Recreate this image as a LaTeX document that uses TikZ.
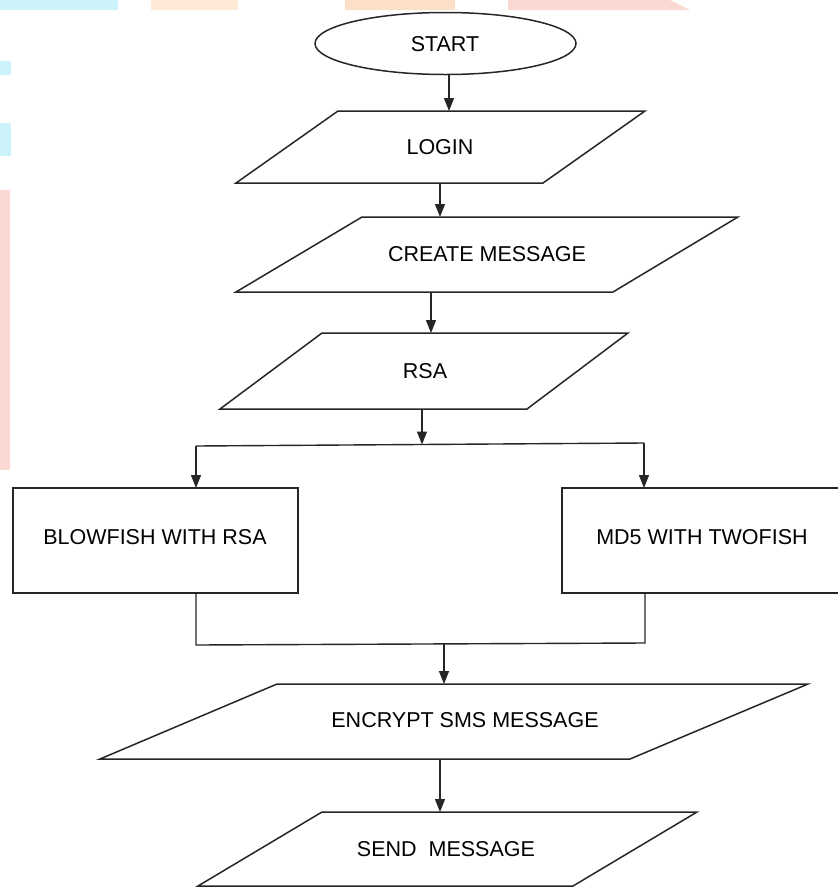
\documentclass[tikz,border=0pt]{standalone}
\usepackage{fontspec}
\setmainfont{Liberation Sans}
\usetikzlibrary{arrows.meta}
\definecolor{lncol}{HTML}{262626}
\definecolor{wmcyan}{HTML}{CDF3FA}
\definecolor{wmorange}{HTML}{FDE9D6}
\definecolor{wmorange2}{HTML}{FCE0C6}
\definecolor{wmpink}{HTML}{FBD8D1}
\begin{document}
\begin{tikzpicture}[x=1pt,y=-1pt,
  shp/.style={draw=lncol,line width=1.5pt,line join=miter},
  lbl/.style={font=\fontsize{21.5}{26}\selectfont,text=black,inner sep=0pt},
  arr/.style={draw=lncol,line width=1.2pt,-{Triangle[length=13pt,width=10pt]}},
  conn/.style={draw=lncol,line width=1.4pt}]
\useasboundingbox (0,0) rectangle (838,887);
% faint watermark traces
\fill[wmcyan] (0,0) rectangle (118,10);
\fill[wmorange] (151,0) rectangle (238,10);
\fill[wmorange2] (345,0) rectangle (455,10);
\fill[wmpink] (508,0) -- (670,0) -- (690,10) -- (508,10) -- cycle;
\fill[wmcyan] (0,61) rectangle (11,75);
\fill[wmcyan] (0,123) rectangle (11,156);
\fill[wmpink] (0,190) rectangle (10,470);
% shapes
\draw[shp] (445.5,43.5) ellipse [x radius=130.5, y radius=31];
\draw[shp] (338,111) -- (645,111) -- (543,183) -- (236,183) -- cycle;
\draw[shp] (362,217) -- (738,217) -- (613,292) -- (236,292) -- cycle;
\draw[shp] (322,333) -- (628,333) -- (527,409) -- (220,409) -- cycle;
\draw[shp] (13,488) rectangle (298,593);
\draw[shp] (562,488) rectangle (850,593);
\draw[shp] (277,684) -- (808,684) -- (630,759) -- (100,759) -- cycle;
\draw[shp] (322,812) -- (697,812) -- (573,886) -- (198,886) -- cycle;
% labels
\node[lbl] (tstart) at (445,44) {START};
\node[lbl] (tlogin) at (440,147) {LOGIN};
\node[lbl] (tcreate) at (487,254) {CREATE MESSAGE};
\node[lbl] (trsa) at (425,371) {RSA};
\node[lbl] (tblow) at (155,537) {BLOWFISH WITH RSA};
\node[lbl] (tmd5) at (702,537) {MD5 WITH TWOFISH};
\node[lbl] (tenc) at (465,720) {ENCRYPT SMS MESSAGE};
\node[lbl] (tsend) at (446,849) {SEND\ \ MESSAGE};
% connector points
\coordinate (s1) at (449,74.5);
\coordinate (l1) at (449,111);
\coordinate (l2) at (440,183);
\coordinate (c1) at (440,217);
\coordinate (c2) at (431,292);
\coordinate (r1) at (431,333);
\coordinate (r2) at (422,409);
\coordinate (j) at (422,444.5);
\coordinate (jl) at (196,446);
\coordinate (jr) at (644,443);
\coordinate (bl) at (196,488);
\coordinate (br) at (644,488);
\coordinate (bl2) at (196,593);
\coordinate (ml) at (196,645);
\coordinate (mr) at (645,643);
\coordinate (br2) at (645,593);
\coordinate (m) at (444,644);
\coordinate (e1) at (444,684);
\coordinate (e2) at (440,759);
\coordinate (sd1) at (440,812);
% connectors
\draw[arr] (s1) -- (l1);
\draw[arr] (l2) -- (c1);
\draw[arr] (c2) -- (r1);
\draw[arr] (r2) -- (j);
\draw[conn] (jl) -- (jr);
\draw[arr] (jl) -- (bl);
\draw[arr] (jr) -- (br);
\draw[conn] (bl2) -- (ml) -- (mr) -- (br2);
\draw[arr] (m) -- (e1);
\draw[arr] (e2) -- (sd1);
\end{tikzpicture}
\end{document}
